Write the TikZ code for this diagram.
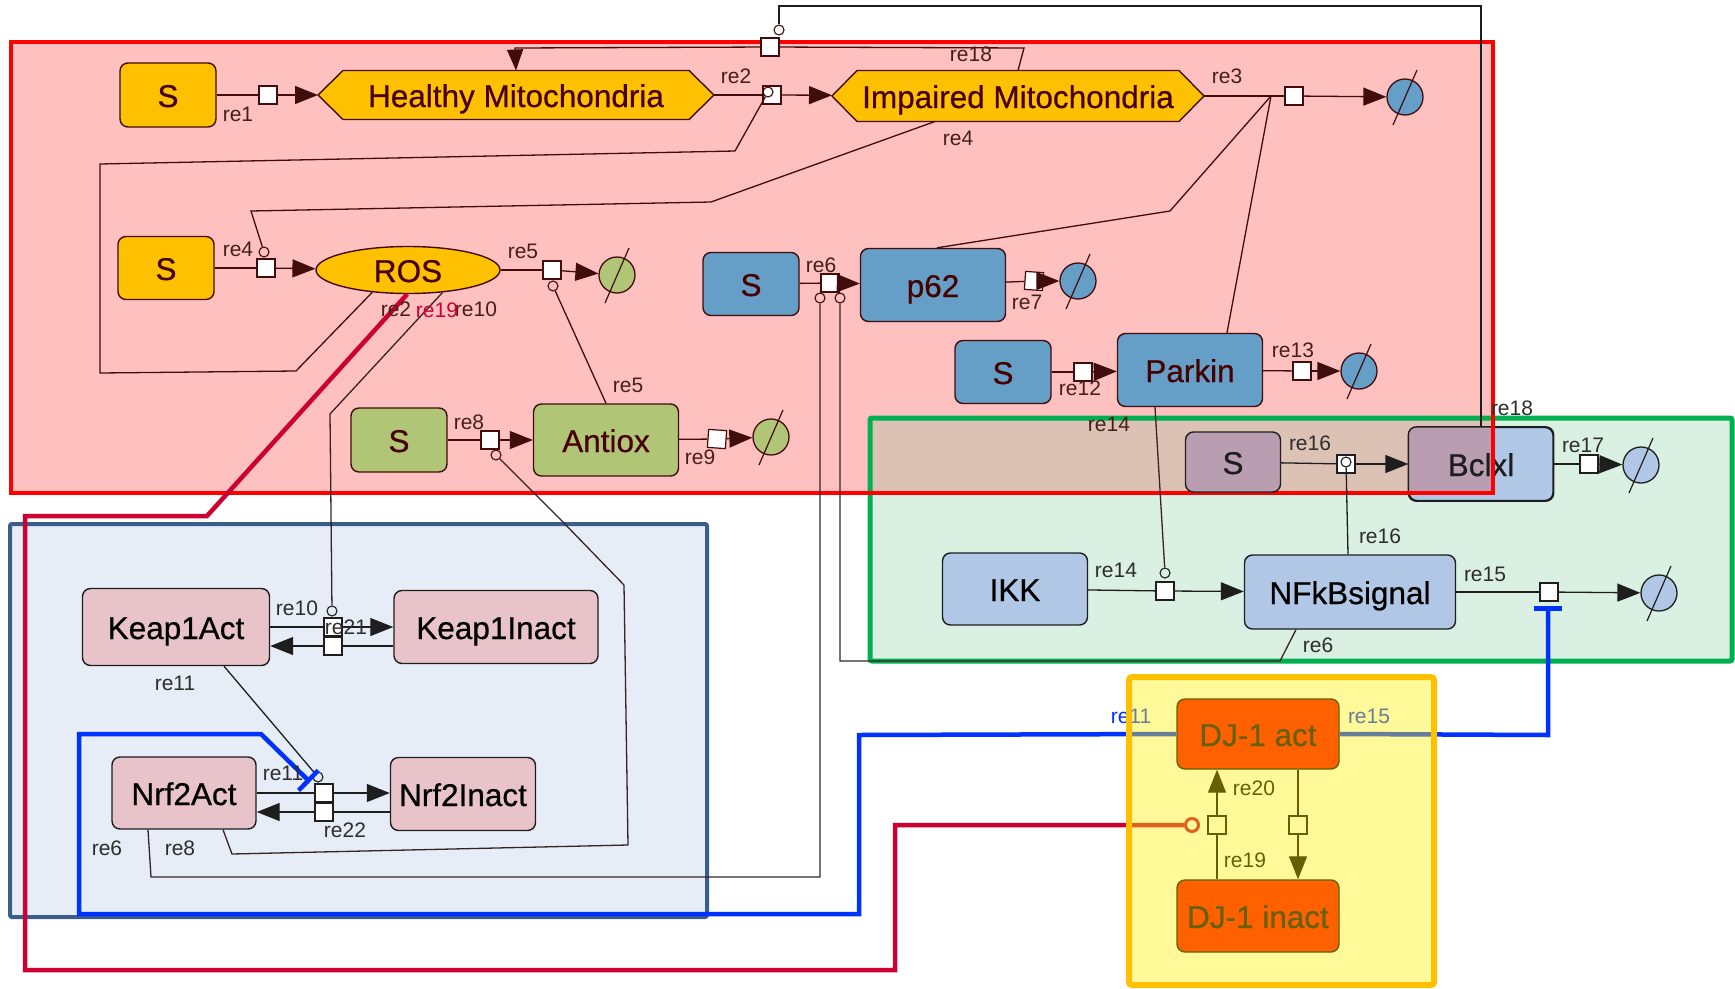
\documentclass[tikz,border=0pt]{standalone}
\usepackage{fontspec}
\setmainfont{Liberation Sans}
\newfontfamily\speciesfont[FakeBold=0.6]{Liberation Sans}
\usetikzlibrary{arrows.meta,shapes.geometric}

\definecolor{cmpRfill}{RGB}{255,192,192}
\definecolor{cmpRline}{RGB}{255,0,0}
\definecolor{cmpGfill}{RGB}{218,240,227}
\definecolor{cmpGline}{RGB}{0,176,80}
\definecolor{cmpOverlap}{RGB}{219,194,180}
\definecolor{cmpBfill}{RGB}{231,237,246}
\definecolor{cmpBline}{RGB}{58,94,140}
\definecolor{cmpYover}{RGB}{255,240,0}
\definecolor{cmpYline}{RGB}{255,192,0}
\definecolor{ylw}{RGB}{255,192,0}
\definecolor{steel}{RGB}{101,158,199}
\definecolor{leaf}{RGB}{176,198,118}
\definecolor{pale}{RGB}{176,200,230}
\definecolor{mauve}{RGB}{185,158,178}
\definecolor{rose}{RGB}{233,195,202}
\definecolor{maroon}{RGB}{64,12,12}
\definecolor{inkR}{RGB}{70,0,0}
\definecolor{inkK}{RGB}{30,30,30}
\definecolor{lineD}{RGB}{55,35,35}
\definecolor{lblR}{RGB}{70,30,30}
\definecolor{lblK}{RGB}{45,45,45}
\definecolor{actred}{RGB}{205,0,50}
\definecolor{inhblue}{RGB}{0,50,255}

\tikzset{
  lbl/.style={font=\fontsize{21}{24}\selectfont, inner sep=0pt, text=lblK},
  lblr/.style={lbl, text=lblR},
  spectext/.style={font=\speciesfont\fontsize{31.5}{36}\selectfont, text height=24pt, text depth=0pt},
  spec/.style={rectangle, rounded corners=8pt, line width=1.4pt, inner sep=0pt, spectext},
  specR/.style={spec, draw=maroon, text=inkR},
  specK/.style={spec, draw=inkK, text=black},
  proc/.style={rectangle, draw=inkK, fill=white, line width=1.2pt, minimum size=18pt, inner sep=0pt},
  procR/.style={proc, draw=maroon},
  modc/.style={circle, draw=inkK, line width=1.1pt, minimum size=10pt, inner sep=0pt},
  modcR/.style={modc, draw=maroon},
  sink/.style={circle, draw=maroon, line width=1.3pt, minimum size=36pt, inner sep=0pt},
  wire/.style={line width=1.3pt},
  prod/.style={wire, -{Triangle[length=23pt,width=18pt]}},
  hexframe/.style={rectangle, inner sep=0pt, outer sep=0pt},
  hexfill/.style={fill=ylw, draw=maroon, line width=1.4pt},
  inhib/.style={inhblue, line width=4.5pt, -{Bar[width=28pt,line width=4.5pt]}},
}
% slash across a degradation circle
\newcommand\sinkbar[2]{\draw[line width=1.2pt,#2] ([shift={(-12,28)}]#1.center) -- ([shift={(12,-27)}]#1.center);}

\begin{document}
\begin{tikzpicture}[x=1pt,y=-1pt]
\useasboundingbox (0,0) rectangle (1735,988);

% ---------- compartments ----------
\fill[cmpRfill] (11,42) rectangle (1493,493);
\fill[cmpGfill] (870,418) rectangle (1732,661);
\fill[cmpOverlap] (870,418) rectangle (1493,493);
\fill[cmpBfill] (10,524) rectangle (707,917);
\draw[cmpGline, line width=5pt, rounded corners=2pt] (870,418) rectangle (1732,661);
\draw[cmpRline, line width=4pt] (11,42) rectangle (1493,493);
\draw[cmpBline, line width=4pt, rounded corners=2pt] (10,524) rectangle (707,917);

% ---------- mitochondria ----------
\node[specR, fill=ylw, minimum width=96pt, minimum height=64pt] (sA) at (168,95) {S};
\node[hexframe, minimum width=396pt, minimum height=49pt] (hm) at (516,95) {};
\filldraw[hexfill] (hm.west) -- ([shift={(25,0)}]hm.north west) -- ([shift={(-25,0)}]hm.north east) -- (hm.east) -- ([shift={(-25,0)}]hm.south east) -- ([shift={(25,0)}]hm.south west) -- cycle;
\node[spectext, text=inkR, inner sep=0pt] at (hm) {Healthy Mitochondria};
\node[hexframe, minimum width=372pt, minimum height=51pt] (im) at (1018,96) {};
\filldraw[hexfill] (im.west) -- ([shift={(25,0)}]im.north west) -- ([shift={(-25,0)}]im.north east) -- (im.east) -- ([shift={(-25,0)}]im.south east) -- ([shift={(25,0)}]im.south west) -- cycle;
\node[spectext, text=inkR, inner sep=0pt] at (im) {Impaired Mitochondria};

\node[specR, fill=ylw, minimum width=96pt, minimum height=63pt] (sB) at (166,268) {S};
\node[ellipse, draw=maroon, line width=1.4pt, fill=ylw, text=inkR, minimum width=184pt, minimum height=47pt, inner sep=0pt, spectext] (ros) at (408,270) {ROS};

\node[specR, fill=steel, minimum width=96pt, minimum height=63pt] (sC) at (751,284) {S};
\node[specR, fill=steel, minimum width=145pt, minimum height=73pt] (p62) at (933,285) {p62};
\node[specR, fill=steel, minimum width=96pt, minimum height=63pt] (sD) at (1003,372) {S};
\node[specR, fill=steel, minimum width=145pt, minimum height=73pt] (parkin) at (1190,370) {Parkin};
\node[specR, fill=leaf, minimum width=96pt, minimum height=64pt] (sE) at (399,440) {S};
\node[specR, fill=leaf, minimum width=145pt, minimum height=72pt] (antiox) at (606,440) {Antiox};

% ---------- NF-kB module ----------
\node[spec, draw=inkK, fill=mauve, text=inkK, minimum width=95pt, minimum height=60pt] (sF) at (1233,462) {S};
\node[specK, fill=pale, minimum width=144pt, minimum height=73pt] (bclxl) at (1481,464) {};
\begin{scope}
  \clip (1400,420) rectangle (1493,493);
  \fill[mauve, rounded corners=8pt] (bclxl.south west) rectangle (bclxl.north east);
\end{scope}
\draw[inkK, line width=1.4pt, rounded corners=8pt] (bclxl.south west) rectangle (bclxl.north east);
\node[spectext, text=inkK, inner sep=0pt] at (bclxl) {Bclxl};
\draw[cmpRline, line width=4pt] (1400,493) -- (1493,493) -- (1493,420);
\node[specK, fill=pale, minimum width=145pt, minimum height=72pt] (ikk) at (1015,589) {IKK};
\node[specK, fill=pale, minimum width=211pt, minimum height=74pt] (nfkb) at (1350,592) {NFkBsignal};

% ---------- Keap1 / Nrf2 module ----------
\node[specK, fill=rose, minimum width=187pt, minimum height=77pt] (keap1act) at (176,627) {Keap1Act};
\node[specK, fill=rose, minimum width=204pt, minimum height=73pt] (keap1inact) at (496,627) {Keap1Inact};
\node[specK, fill=rose, minimum width=144pt, minimum height=72pt] (nrf2act) at (184,793) {Nrf2Act};
\node[specK, fill=rose, minimum width=145pt, minimum height=73pt] (nrf2inact) at (463,794) {Nrf2Inact};

% ---------- process squares ----------
\node[procR] (q1) at (268,95) {};
\node[procR] (q2) at (772,95) {};
\node[modcR] (c2) at (768,92) {};
\node[procR] (q18) at (770,47) {};
\node[modcR] (c18) at (779,30) {};
\node[procR] (q3) at (1294,96) {};
\node[procR] (q4) at (266,268) {};
\node[modcR] (c4) at (264,252) {};
\node[procR] (q5) at (552,270) {};
\node[modcR] (c5) at (553,286) {};
\node[procR] (q6) at (830,283) {};
\node[modcR] (c6a) at (820,298) {};
\node[modcR] (c6b) at (840,298) {};
\node[procR, rotate=-4] (q7) at (1034,281) {};
\node[procR] (q8) at (490,440) {};
\node[modcR] (c8) at (496,455) {};
\node[procR, rotate=-4] (q9) at (717,439) {};
\node[procR] (q12) at (1083,372) {};
\node[procR] (q13) at (1302,371) {};
\node[proc] (q14) at (1165,591) {};
\node[modc] (c14) at (1165,573) {};
\node[proc] (q15) at (1549,592) {};
\node[proc] (q16) at (1346,464) {};
\node[modc] (c16) at (1346,462) {};
\node[proc] (q17) at (1589,464) {};
\node[proc] (q10) at (333,627) {};
\node[modc] (c10) at (332,611) {};
\node[proc] (q21) at (333,646) {};
\node[proc] (q11) at (324,793) {};
\node[modc] (c11) at (318,777) {};
\node[proc] (q22) at (324,812) {};

% ---------- degradation sinks ----------
\node[sink, fill=steel] (d3) at (1405,97) {};   \sinkbar{d3}{maroon}
\node[sink, fill=leaf] (d5) at (617,275) {};    \sinkbar{d5}{maroon}
\node[sink, fill=steel] (d7) at (1078,281) {};  \sinkbar{d7}{maroon}
\node[sink, fill=leaf] (d9) at (771,437) {};    \sinkbar{d9}{maroon}
\node[sink, fill=steel] (d13) at (1359,371) {}; \sinkbar{d13}{maroon}
\node[sink, draw=inkK, fill=pale] (d17) at (1641,465) {}; \sinkbar{d17}{inkK}
\node[sink, draw=inkK, fill=pale] (d15) at (1659,593) {}; \sinkbar{d15}{inkK}

\coordinate (j3) at (1271,96);
\coordinate (inh1) at (310,782);
\coordinate (inh2) at (1548,606);

% ---------- reactions ----------
% re1, re2, re3
\draw[wire,maroon] (sA) -- (q1);  \draw[prod,maroon] (q1) -- (hm);
\draw[wire,maroon] (hm) -- (q2);  \draw[prod,maroon] (q2) -- (im);
\draw[wire,maroon] (im) -- (q3);  \draw[prod,maroon] (q3) -- (d3);
\draw[wire,maroon] ([shift={(37,0)}]parkin.north) -- (j3);
\draw[wire,maroon] ([shift={(4,0)}]p62.north) -- (1170,211) -- (j3);
% re18
\draw[wire,inkK] (bclxl.north) -- (1481,6) -- (779,6) -- (c18);
\draw[wire,maroon] (im.north) -- (1024,48) -- (q18);
\draw[wire,maroon,-{Triangle[length=21pt,width=16pt]}] (q18) -- (515,48) -- (hm.north);
% re4
\draw[wire,maroon] (sB) -- (q4);  \draw[prod,maroon] (q4) -- (ros);
\draw[wire,maroon] ([shift={(-83,0)}]im.south) -- (711,202) -- (251,211) -- (c4);
% ROS acting on re2
\draw[wire,maroon] (ros.212) -- (296,371) -- (100,373) -- (100,164) -- (735,151) -- (c2);
% re5
\draw[wire,maroon] (ros) -- (q5);  \draw[prod,maroon] (q5) -- (d5);
\draw[wire,maroon] (antiox.north) -- (c5);
% re6
\draw[wire,maroon] (sC) -- (q6);  \draw[prod,maroon] (q6) -- (p62);
\draw[wire,lineD] ([shift={(-36,0)}]nrf2act.south) -- (151,877) -- (820,877) -- (c6a);
\draw[wire,lineD] ([shift={(-54,0)}]nfkb.south) -- (1280,661) -- (840,661) -- (c6b);
% re7
\draw[wire,maroon] (p62) -- (q7);  \draw[prod,maroon] (q7) -- (d7);
% re8
\draw[wire,maroon] (sE) -- (q8);  \draw[prod,maroon] (q8) -- (antiox);
\draw[wire,lineD] ([shift={(39,0)}]nrf2act.south) -- (232,854) -- (628,845) -- (624,585) -- (561,520) -- (c8);
% re9
\draw[wire,maroon] (antiox) -- (q9);  \draw[prod,maroon] (q9) -- (d9);
% re10 / re21
\draw[wire,lineD] (ros.-33) -- (330,414) -- (c10);
\draw[wire,inkK] (keap1act.east) -- (q10);  \draw[prod,inkK] (q10) -- (keap1inact.west);
\draw[wire,inkK] ([shift={(0,19)}]keap1inact.west) -- (q21);  \draw[prod,inkK] (q21) -- ([shift={(0,19)}]keap1act.east);
% re11 / re22
\draw[wire,inkK] ([shift={(48,0)}]keap1act.south) -- (c11);
\draw[wire,inkK] (nrf2act.east) -- (q11);  \draw[prod,inkK] (q11) -- ([shift={(0,-1)}]nrf2inact.west);
\draw[wire,inkK] ([shift={(0,18)}]nrf2inact.west) -- (q22);  \draw[prod,inkK] (q22) -- ([shift={(0,19)}]nrf2act.east);
% re12, re13
\draw[wire,maroon] (sD) -- (q12);  \draw[prod,maroon] (q12) -- (parkin);
\draw[wire,maroon] (parkin) -- (q13);  \draw[prod,maroon] (q13) -- (d13);
% re14
\draw[wire,inkK] (ikk) -- (q14);  \draw[prod,inkK] (q14) -- (nfkb);
\draw[wire,lineD] ([shift={(-35,0)}]parkin.south) -- (c14);
% re15
\draw[wire,inkK] (nfkb) -- (q15);  \draw[prod,inkK] (q15) -- (d15);
% re16, re17
\draw[wire,inkK] (sF) -- (q16);  \draw[prod,inkK] (q16) -- (bclxl);
\draw[wire,inkK] ([shift={(-2,0)}]nfkb.north) -- (c16);
\draw[wire,inkK] (bclxl) -- (q17);  \draw[prod,inkK] (q17) -- (d17);

% ---------- DJ-1 module ----------
\node[spec, draw=black, fill=red, text=black, minimum width=162pt, minimum height=70pt] (dj1act) at (1258,734) {DJ-1 act};
\node[spec, draw=black, fill=red, text=black, minimum width=162pt, minimum height=72pt] (dj1inact) at (1258,916) {DJ-1 inact};
\node[proc, draw=black] (q19) at (1217,825) {};
\node[proc, draw=black] (q20) at (1298,825) {};
\node[circle, draw=actred, line width=3pt, minimum size=13pt, inner sep=0pt] (c19) at (1192,825) {};
\draw[wire,black] ([shift={(-41,0)}]dj1inact.north) -- (q19);
\draw[prod,black] (q19) -- ([shift={(-41,0)}]dj1act.south);
\draw[wire,black] ([shift={(40,0)}]dj1act.south) -- (q20);
\draw[prod,black] (q20) -- ([shift={(40,0)}]dj1inact.north);

% DJ-1 inhibitions and ROS activation
\draw[inhib] (dj1act.west) -- (859,735) -- (859,914) -- (79,914) -- (79,734) -- (261,734) -- (inh1);
\draw[inhib] (dj1act.east) -- (1548,735) -- (inh2);
\draw[actred, line width=4.5pt] (ros.268) -- (207,516) -- (25,516) -- (25,970) -- (895,970) -- (895,825) -- (c19);

% ---------- reaction labels ----------
\node[lblr] at (238,114) {re1};
\node[lblr] at (736,76) {re2};
\node[lblr] at (971,54) {re18};
\node[lblr] at (1227,76) {re3};
\node[lblr] at (958,138) {re4};
\node[lblr] at (238,249) {re4};
\node[lblr] at (523,251) {re5};
\node[lblr] at (396,309) {re2};
\node[lblr] at (476,309) {re10};
\node[lbl, text=actred] at (437,310) {re19};
\node[lblr] at (628,385) {re5};
\node[lblr] at (821,265) {re6};
\node[lblr] at (1027,302) {re7};
\node[lblr] at (469,422) {re8};
\node[lblr] at (700,457) {re9};
\node[lblr] at (1080,388) {re12};
\node[lblr] at (1293,350) {re13};
\node[lblr] at (1109,424) {re14};
\node[lbl] at (1512,408) {re18};
\node[lbl] at (1310,443) {re16};
\node[lbl] at (1583,445) {re17};
\node[lbl] at (1116,570) {re14};
\node[lbl] at (1380,536) {re16};
\node[lbl] at (1485,574) {re15};
\node[lbl] at (1318,645) {re6};
\node[lbl] at (297,608) {re10};
\node[lbl] at (346,627) {re21};
\node[lbl] at (175,683) {re11};
\node[lbl] at (283,773) {re11};
\node[lbl] at (345,830) {re22};
\node[lbl] at (107,848) {re6};
\node[lbl] at (180,848) {re8};
\node[lbl, text=inhblue] at (1131,716) {re11};
\node[lbl, text=inhblue] at (1369,716) {re15};
\node[lbl, text=black] at (1254,788) {re20};
\node[lbl, text=black] at (1245,860) {re19};

% DJ-1 compartment drawn over its content
\fill[cmpYover, opacity=0.4] (1129,677) rectangle (1434,985);
\draw[cmpYline, line width=6pt, rounded corners=3pt] (1129,677) rectangle (1434,985);
\end{tikzpicture}
\end{document}
